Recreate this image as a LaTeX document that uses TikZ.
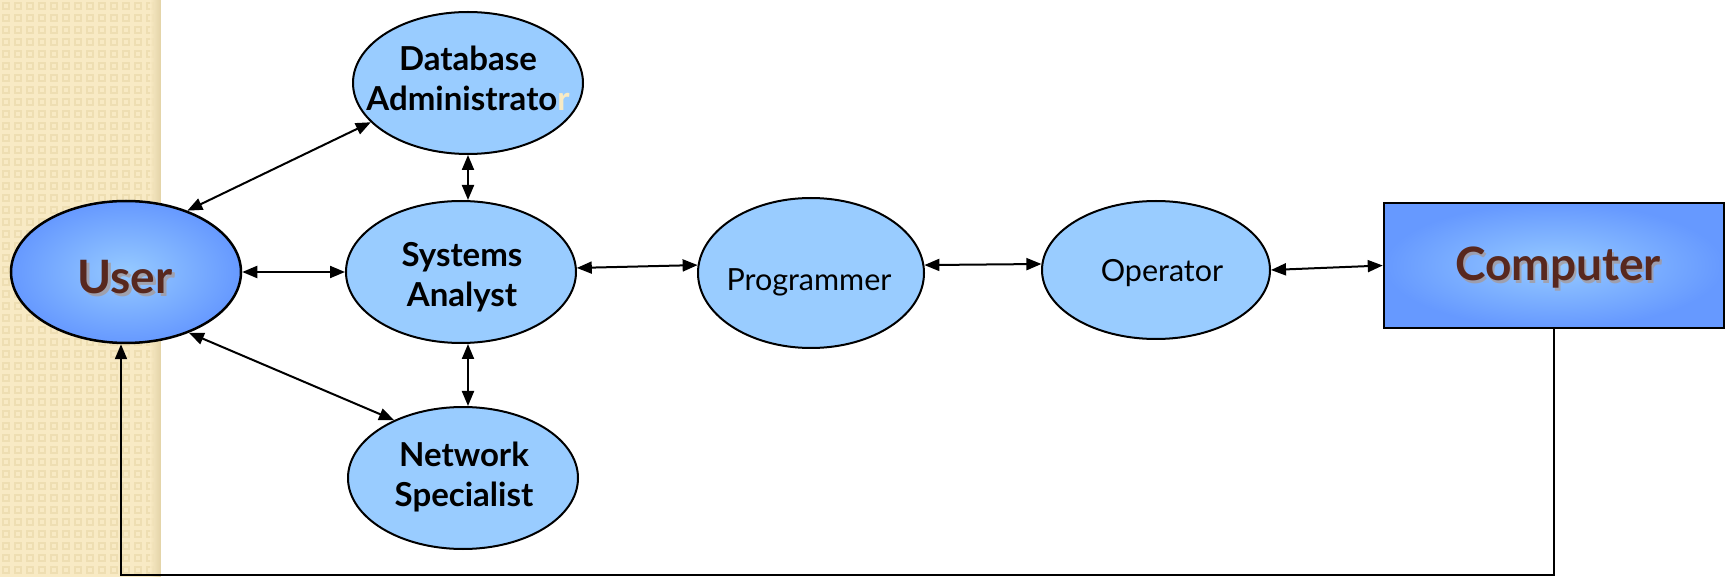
\documentclass[tikz,border=0pt]{standalone}
\usepackage{fontspec}
\setmainfont{Lato}
\usetikzlibrary{shapes.geometric,arrows.meta}
\definecolor{bubblefill}{RGB}{153,204,255}
\definecolor{deepblue}{RGB}{102,153,255}
\definecolor{paleblue}{RGB}{150,202,255}
\definecolor{brownish}{RGB}{88,40,30}
\definecolor{beigebase}{RGB}{248,234,196}
\definecolor{beigedark}{RGB}{238,222,178}
\definecolor{beigeedge}{RGB}{222,205,160}
\definecolor{shadowtone}{RGB}{170,150,140}
\tikzset{
  bubble/.style={ellipse, draw=black, line width=2pt, fill=bubblefill,
    minimum width=230pt, minimum height=142pt, inner sep=0pt},
  boldtext/.style={inner sep=0pt, align=center, font=\fontsize{33}{40}\selectfont\bfseries},
  lighttext/.style={inner sep=0pt, font=\fontsize{30.5}{38}\selectfont},
  glowbubble/.style={ellipse, draw=black, line width=2.5pt, inner color=paleblue,
    outer color=deepblue, minimum width=230pt, minimum height=142pt, inner sep=0pt},
  glowbox/.style={rectangle, draw=black, line width=2.5pt, inner color=paleblue,
    outer color=deepblue, minimum width=340pt, minimum height=125pt, inner sep=0pt},
  bigword/.style={font=\fontsize{46}{52}\selectfont\bfseries, text=brownish, inner sep=0pt},
  bigshadow/.style={font=\fontsize{46}{52}\selectfont\bfseries, text=shadowtone, inner sep=0pt, opacity=0.7},
  link/.style={line width=2pt, {Triangle[length=15pt,width=12pt]}-{Triangle[length=15pt,width=12pt]}},
  backlink/.style={line width=2pt, -{Triangle[length=15pt,width=12pt]}}
}
\begin{document}
\begin{tikzpicture}[x=1pt,y=-1pt]
\useasboundingbox (0,0) rectangle (1725,577);
% beige strip
\fill[beigebase] (0,0) rectangle (161,577);
\foreach \i in {0,...,12}{
  \foreach \j in {0,...,48}{
    \fill[beigedark] (\i*12+2,\j*12+2) rectangle ++(8,8);
    \fill[beigebase] (\i*12+4,\j*12+4) rectangle ++(4,4);
  }
}
\shade[left color=beigebase, right color=beigeedge, opacity=0.8] (150,0) rectangle (161,577);
\fill[white] (161,0) rectangle (1725,577);

% nodes
\node[glowbubble] (user) at (126,272) {};
\node[bigshadow] (usershadow) at (128,280) {User};
\node[bigword] (userlabel) at (125,277) {User};

\node[bubble] (db) at (468,83) {};
\node[boldtext] (dblabel) at (468,78) {Database\\Administrato\textcolor{beigebase}{r}};
\node[bubble] (sa) at (461,272) {};
\node[boldtext] (salabel) at (462,277) {Systems\\Analyst};
\node[bubble] (ns) at (463,478) {};
\node[boldtext] (nslabel) at (464,477) {Network\\Specialist};
\node[bubble, minimum width=226pt, minimum height=150pt] (prog) at (811,273) {};
\node[lighttext] (proglabel) at (809,282) {Programmer};
\node[bubble, minimum width=228pt, minimum height=138pt] (op) at (1156,270) {};
\node[lighttext] (oplabel) at (1162,273) {Operator};

\node[glowbox] (comp) at (1554,265.5) {};
\node[bigshadow] (compshadow) at (1560,271) {Computer};
\node[bigword] (complabel) at (1558,268) {Computer};

% connectors
\draw[link] (user.45) -- (db.202);
\draw[link] (user.east) -- (sa.west);
\draw[link] (user.-44) -- (ns.140);
\draw[link] (db.south) -- (db.south |- sa.north);
\draw[link] (db.south |- sa.south) -- (db.south |- ns.north);
\draw[link] (sa.2) -- (prog.176);
\draw[link] (prog.4) -- (op.177);
\draw[link] (op.0) -- (comp.west);
\coordinate (corner) at (1554,575);
\draw[backlink] (comp.south) -- (corner) -| ([xshift=-5pt]user.south);
\end{tikzpicture}
\end{document}
